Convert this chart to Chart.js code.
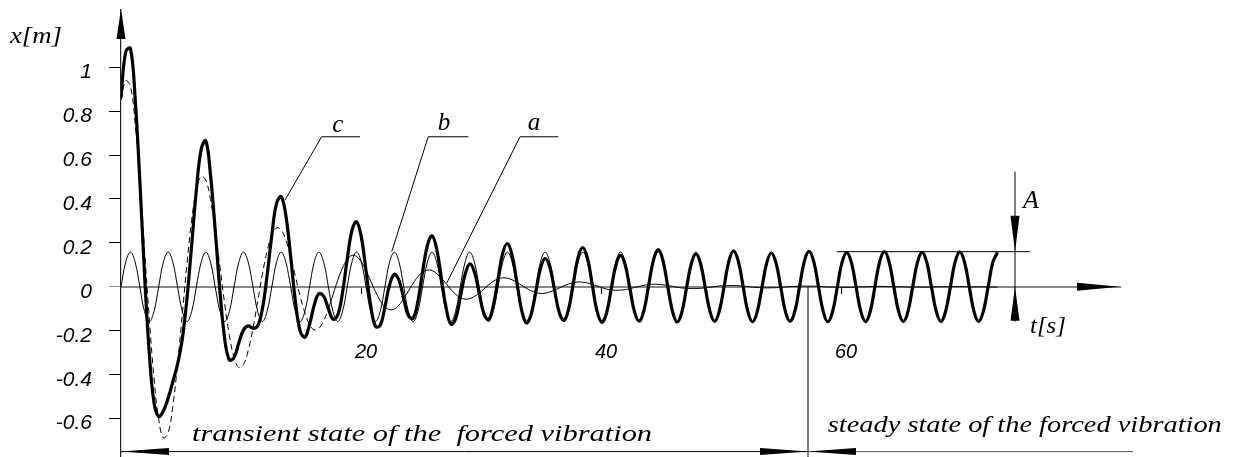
<!DOCTYPE html>
<html>
<head>
<meta charset="utf-8">
<script src="https://cdn.jsdelivr.net/npm/chart.js@4.4.0/dist/chart.umd.min.js"></script>
<style>
  body { margin: 0; background: #fff; }
</style>
</head>
<body>
<canvas id="vibChart" width="1239" height="457"></canvas>
<script>
// time t [s], sampled every 1/8 of the forcing period
var tSec = [
  0, 0.39, 0.79, 1.18, 1.57, 1.96, 2.36, 2.75,
  3.14, 3.53, 3.93, 4.32, 4.71, 5.11, 5.50, 5.89,
  6.28, 6.68, 7.07, 7.46, 7.85, 8.25, 8.64, 9.03,
  9.42, 9.82, 10.21, 10.60, 11.00, 11.39, 11.78, 12.17,
  12.57, 12.96, 13.35, 13.74, 14.14, 14.53, 14.92, 15.32,
  15.71, 16.10, 16.49, 16.89, 17.28, 17.67, 18.06, 18.46,
  18.85, 19.24, 19.63, 20.03, 20.42, 20.81, 21.21, 21.60,
  21.99, 22.38, 22.78, 23.17, 23.56, 23.95, 24.35, 24.74,
  25.13, 25.53, 25.92, 26.31, 26.70, 27.10, 27.49, 27.88,
  28.27, 28.67, 29.06, 29.45, 29.85, 30.24, 30.63, 31.02,
  31.42, 31.81, 32.20, 32.59, 32.99, 33.38, 33.77, 34.16,
  34.56, 34.95, 35.34, 35.74, 36.13, 36.52, 36.91, 37.31,
  37.70, 38.09, 38.48, 38.88, 39.27, 39.66, 40.06, 40.45,
  40.84, 41.23, 41.63, 42.02, 42.41, 42.80, 43.20, 43.59,
  43.98, 44.38, 44.77, 45.16, 45.55, 45.95, 46.34, 46.73,
  47.12, 47.52, 47.91, 48.30, 48.69, 49.09, 49.48, 49.87,
  50.27, 50.66, 51.05, 51.44, 51.84, 52.23, 52.62, 53.01,
  53.41, 53.80, 54.19, 54.59, 54.98, 55.37, 55.76, 56.16,
  56.55, 56.94, 57.33, 57.73, 58.12, 58.51, 58.90, 59.30,
  59.69, 60.08, 60.48, 60.87, 61.26, 61.65, 62.05, 62.44,
  62.83, 63.22, 63.62, 64.01, 64.40, 64.80, 65.19, 65.58,
  65.97, 66.37, 66.76, 67.15, 67.54, 67.94, 68.33, 68.72,
  69.12, 69.51, 69.90, 70.29, 70.69, 71.08, 71.47, 71.86,
  72.26, 72.65, 73.04
];

// a - free (damped) vibration
var xFree = [
  0.850, 0.938, 0.912, 0.744, 0.483, 0.169, -0.146, -0.415, -0.603, -0.687, -0.664, -0.544, -0.353, -0.124, 0.106, 0.303,
  0.440, 0.502, 0.485, 0.397, 0.258, 0.090, -0.078, -0.221, -0.322, -0.367, -0.354, -0.290, -0.188, -0.066, 0.057, 0.162,
  0.235, 0.268, 0.259, 0.212, 0.137, 0.048, -0.041, -0.118, -0.172, -0.196, -0.189, -0.155, -0.100, -0.035, 0.030, 0.086,
  0.125, 0.143, 0.138, 0.113, 0.073, 0.026, -0.022, -0.063, -0.092, -0.104, -0.101, -0.083, -0.054, -0.019, 0.016, 0.046,
  0.067, 0.076, 0.074, 0.060, 0.039, 0.014, -0.012, -0.034, -0.049, -0.056, -0.054, -0.044, -0.029, -0.010, 0.009, 0.025,
  0.036, 0.041, 0.039, 0.032, 0.021, 0.007, -0.006, -0.018, -0.026, -0.030, -0.029, -0.023, -0.015, -0.005, 0.005, 0.013,
  0.019, 0.022, 0.021, 0.017, 0.011, 0.004, -0.003, -0.010, -0.014, -0.016, -0.015, -0.013, -0.008, -0.003, 0.002, 0.007,
  0.010, 0.012, 0.011, 0.009, 0.006, 0.002, -0.002, -0.005, -0.007, -0.008, -0.008, -0.007, -0.004, -0.002, 0.001, 0.004,
  0.005, 0.006, 0.006, 0.005, 0.003, 0.001, -0.001, -0.003, -0.004, -0.005, -0.004, -0.004, -0.002, -0.001, 0.001, 0.002,
  0.003, 0.003, 0.003, 0.003, 0.002, 0.001, -0.001, -0.001, -0.002, -0.002, -0.002, -0.002, -0.001, 0, 0, 0.001,
  0.002, 0.002, 0.002, 0.001, 0.001, 0, 0, -0.001, -0.001, -0.001, -0.001, -0.001, -0.001, 0, 0, 0.001,
  0.001, 0.001, 0.001, 0.001, 0, 0, 0, 0, -0.001, -0.001, -0.001
];

// b - steady state forced vibration
var xSteady = [
  0, 0.112, 0.158, 0.112, 0, -0.112, -0.158, -0.112, 0, 0.112, 0.158, 0.112, 0, -0.112, -0.158, -0.112,
  0, 0.112, 0.158, 0.112, 0, -0.112, -0.158, -0.112, 0, 0.112, 0.158, 0.112, 0, -0.112, -0.158, -0.112,
  0, 0.112, 0.158, 0.112, 0, -0.112, -0.158, -0.112, 0, 0.112, 0.158, 0.112, 0, -0.112, -0.158, -0.112,
  0, 0.112, 0.158, 0.112, 0, -0.112, -0.158, -0.112, 0, 0.112, 0.158, 0.112, 0, -0.112, -0.158, -0.112,
  0, 0.112, 0.158, 0.112, 0, -0.112, -0.158, -0.112, 0, 0.112, 0.158, 0.112, 0, -0.112, -0.158, -0.112,
  0, 0.112, 0.158, 0.112, 0, -0.112, -0.158, -0.112, 0, 0.112, 0.158, 0.112, 0, -0.112, -0.158, -0.112,
  0, 0.112, 0.158, 0.112, 0, -0.112, -0.158, -0.112, 0, 0.112, 0.158, 0.112, 0, -0.112, -0.158, -0.112,
  0, 0.112, 0.158, 0.112, 0, -0.112, -0.158, -0.112, 0, 0.112, 0.158, 0.112, 0, -0.112, -0.158, -0.112,
  0, 0.112, 0.158, 0.112, 0, -0.112, -0.158, -0.112, 0, 0.112, 0.158, 0.112, 0, -0.112, -0.158, -0.112,
  0, 0.112, 0.158, 0.112, 0, -0.112, -0.158, -0.112, 0, 0.112, 0.158, 0.112, 0, -0.112, -0.158, -0.112,
  0, 0.112, 0.158, 0.112, 0, -0.112, -0.158, -0.112, 0, 0.112, 0.158, 0.112, 0, -0.112, -0.158, -0.112,
  0, 0.112, 0.158, 0.112, 0, -0.112, -0.158, -0.112, 0, 0.112, 0.158
];

// c - total response (transient + steady)
var xTotal = [
  0.860, 1.070, 1.085, 0.856, 0.483, 0.057, -0.304, -0.527, -0.590, -0.565, -0.506, -0.432, -0.353, -0.236, -0.052, 0.191,
  0.440, 0.625, 0.665, 0.509, 0.258, -0.022, -0.236, -0.333, -0.322, -0.255, -0.196, -0.178, -0.188, -0.178, -0.101, 0.050,
  0.235, 0.380, 0.410, 0.324, 0.137, -0.064, -0.199, -0.230, -0.172, -0.084, -0.031, -0.043, -0.100, -0.147, -0.128, -0.026,
  0.125, 0.255, 0.296, 0.225, 0.073, -0.086, -0.180, -0.175, -0.092, 0.008, 0.057, 0.029, -0.054, -0.131, -0.142, -0.066,
  0.067, 0.188, 0.232, 0.172, 0.039, -0.098, -0.170, -0.146, -0.049, 0.056, 0.104, 0.068, -0.029, -0.122, -0.149, -0.087,
  0.036, 0.153, 0.197, 0.144, 0.021, -0.105, -0.164, -0.130, -0.026, 0.082, 0.129, 0.089, -0.015, -0.117, -0.153, -0.099,
  0.019, 0.134, 0.179, 0.129, 0.011, -0.108, -0.161, -0.122, -0.014, 0.096, 0.143, 0.099, -0.008, -0.115, -0.156, -0.105,
  0.010, 0.124, 0.169, 0.121, 0.006, -0.110, -0.160, -0.117, -0.007, 0.104, 0.150, 0.105, -0.004, -0.114, -0.157, -0.108,
  0.005, 0.118, 0.164, 0.117, 0.003, -0.111, -0.159, -0.115, -0.004, 0.107, 0.154, 0.108, -0.002, -0.113, -0.157, -0.110,
  0.003, 0.115, 0.161, 0.115, 0.002, -0.111, -0.159, -0.113, -0.002, 0.110, 0.156, 0.110, -0.001, -0.112, -0.158, -0.111,
  0.002, 0.114, 0.160, 0.113, 0.001, -0.112, -0.158, -0.113, -0.001, 0.111, 0.157, 0.111, -0.001, -0.112, -0.158, -0.111,
  0.001, 0.113, 0.159, 0.113, 0, -0.112, -0.158, -0.112, -0.001, 0.111, 0.157
];

var xTicks = [20, 40, 60];
var yTicks = [-0.6, -0.4, -0.2, 0, 0.2, 0.4, 0.6, 0.8, 1];

// leader lines for the curve names (data units)
var leaders = [
  { name: "c", pts: [[13.67, 0.395], [16.72, 0.683], [19.92, 0.683]], at: [17.6, 0.705] },
  { name: "b", pts: [[22.56, 0.16], [25.6, 0.683], [28.94, 0.683]], at: [26.4, 0.714] },
  { name: "a", pts: [[27.14, 0.017], [33.25, 0.683], [36.43, 0.683]], at: [33.9, 0.714] }
];

var serif = '"Liberation Serif", "Times New Roman", serif';
var sans = '"Liberation Sans", Arial, sans-serif';

// arrows, dimension lines and hand-lettered labels
var sketch = {
  id: "sketch",
  afterDraw: function(chart) {
    var ctx = chart.ctx, x = chart.scales.x, y = chart.scales.y, area = chart.chartArea;
    var px = function(t) { return x.getPixelForValue(t); };
    var py = function(v) { return y.getPixelForValue(v); };

    function line(pts, w, col) {
      ctx.beginPath();
      ctx.lineWidth = w;
      ctx.strokeStyle = col || "#000";
      pts.forEach(function(p, i) { if (i) ctx.lineTo(p[0], p[1]); else ctx.moveTo(p[0], p[1]); });
      ctx.stroke();
    }
    function arrow(ax, ay, dx, dy, len, hw) {
      var bx = ax - dx * len, by = ay - dy * len;
      ctx.beginPath();
      ctx.moveTo(ax, ay);
      ctx.lineTo(bx - dy * hw, by + dx * hw);
      ctx.lineTo(bx + dy * hw, by - dx * hw);
      ctx.closePath();
      ctx.fillStyle = "#000";
      ctx.fill();
    }
    function text(s, x0, y0, size, width) {
      ctx.font = "italic " + size + "px " + serif;
      ctx.textAlign = "left";
      ctx.textBaseline = "alphabetic";
      ctx.fillStyle = "#000";
      ctx.save();
      ctx.translate(x0, y0);
      if (width) ctx.scale(width / ctx.measureText(s).width, 1);
      ctx.fillText(s, 0, 0);
      ctx.restore();
    }

    ctx.save();
    ctx.lineCap = "butt";

    // axis arrows
    arrow(px(0), area.top - 1, 0, -1, 30, 4.5);
    arrow(area.right, py(0), 1, 0, 43, 4);

    // curve labels
    leaders.forEach(function(l) {
      line(l.pts.map(function(p) { return [px(p[0]), py(p[1])]; }), 1);
      text(l.name, px(l.at[0]), py(l.at[1]), 25);
    });

    // amplitude A of the steady state
    line([[px(59.64), py(0.16)], [px(75.75), py(0.16)]], 1);
    line([[px(74.5), py(0.524)], [px(74.5), py(-0.158)]], 1);
    arrow(px(74.5), py(0.16), 0, 1, 36, 4.5);
    arrow(px(74.5), py(0), 0, -1, 34, 4.5);
    text("A", px(75.17), py(0.36), 26);

    // axis names
    text("x[m]", px(-9.25), py(1.109), 24, 52);
    text("t[s]", px(75.75), py(-0.21), 24, 36);

    // transient / steady dimension
    var yb = py(-0.75), xs = px(57.25);
    line([[xs, py(0)], [xs, area.bottom + 2]], 1);
    line([[px(0), yb], [xs, yb]], 1);
    line([[xs, yb], [px(84.33), yb]], 1, "#555");
    arrow(px(0), yb, -1, 0, 48, 3.5);
    arrow(xs, yb, 1, 0, 48, 3.5);
    arrow(xs, yb, -1, 0, 48, 3.5);
    text("transient state of the  forced vibration", px(5.92), py(-0.70), 24, 460);
    text("steady state of the forced vibration", px(58.9), py(-0.66), 24, 394);

    ctx.restore();
  }
};

new Chart("vibChart", {
  type: "line",
  data: {
    labels: tSec,
    datasets: [{
      label: "c",
      data: xTotal,
      borderColor: "#000",
      borderWidth: 3.2,
      pointRadius: 0,
      tension: 0.4
    }, {
      label: "b",
      data: xSteady,
      borderColor: "#000",
      borderWidth: 1,
      pointRadius: 0,
      tension: 0.4
    }, {
      label: "a",
      data: xFree,
      borderColor: "#000",
      borderWidth: 1,
      pointRadius: 0,
      tension: 0.4,
      segment: {
        borderDash: function(c) { return c.p0.parsed.x < 17 ? [6, 4] : undefined; }
      }
    }]
  },
  options: {
    responsive: false,
    animation: false,
    devicePixelRatio: 1,
    layout: { padding: { top: 10, bottom: 1, left: 0, right: 119 } },
    plugins: {
      legend: { display: false },
      tooltip: { enabled: false }
    },
    scales: {
      x: {
        type: "linear",
        min: 0,
        max: 83.25,
        position: { y: 0 },
        afterBuildTicks: function(s) { s.ticks = xTicks.map(function(v) { return { value: v }; }); },
        afterFit: function(s) { s.height = 0; s.paddingLeft = 0; s.paddingRight = 0; },
        grid: { drawOnChartArea: false, drawTicks: true, tickLength: 6, color: "#000" },
        border: { color: "#888", width: 2 },
        ticks: {
          padding: 48,
          labelOffset: 5,
          color: "#000",
          font: { family: sans, style: "italic", size: 20 },
          callback: function(v) { return String(v); }
        }
      },
      y: {
        min: -0.77,
        max: 1.26,
        afterBuildTicks: function(s) { s.ticks = yTicks.map(function(v) { return { value: v }; }); },
        afterFit: function(s) { s.width = 121; s.paddingTop = 0; s.paddingBottom = 0; },
        grid: {
          drawOnChartArea: false,
          tickLength: 12,
          color: function(c) { return c.tick && c.tick.value === 0 ? "#888" : "#000"; }
        },
        border: { color: "#222", width: 1.2 },
        ticks: {
          padding: 17,
          labelOffset: 5,
          color: "#000",
          font: { family: sans, style: "italic", size: 21 },
          callback: function(v) { return String(v); }
        }
      }
    }
  },
  plugins: [sketch]
});
</script>
</body>
</html>
